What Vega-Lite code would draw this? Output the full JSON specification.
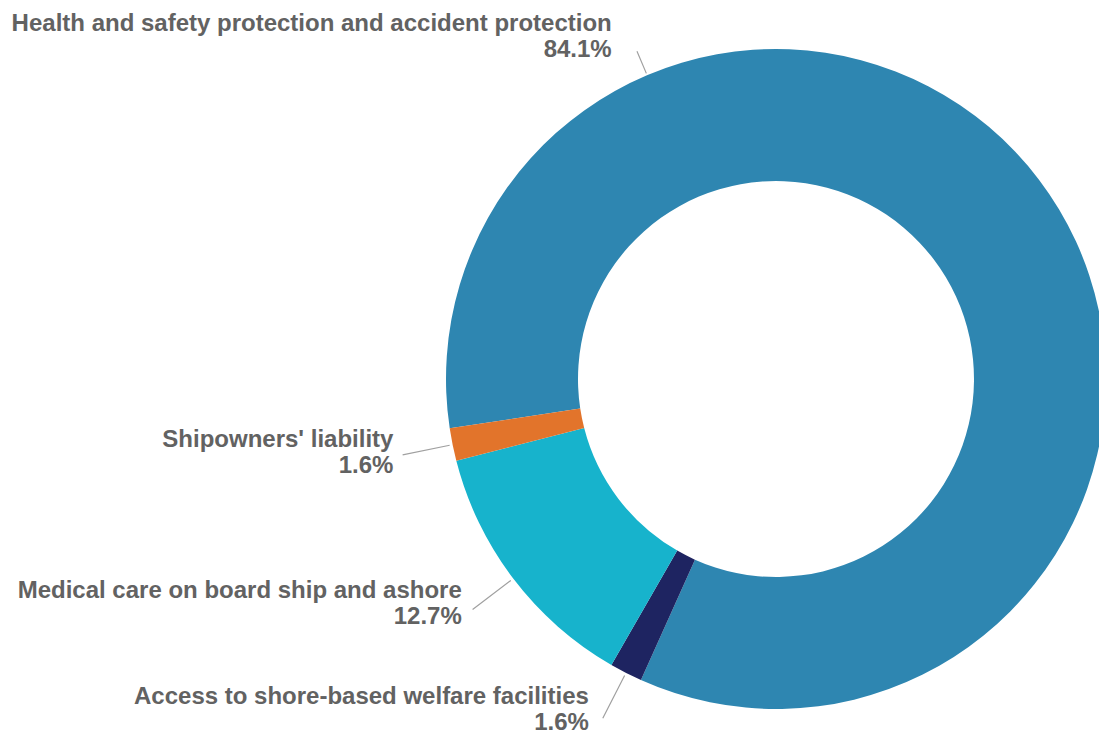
{
  "$schema": "https://vega.github.io/schema/vega-lite/v6.json",
  "width": 646,
  "height": 646,
  "autosize": {"type": "none"},
  "padding": {"left": 453, "top": 56, "right": 0, "bottom": 31},
  "background": "white",
  "config": {"view": {"stroke": null}},
  "data": {
    "values": [
      {"category": "Health and safety protection and accident protection", "share": 0.841},
      {"category": "Access to shore-based welfare facilities", "share": 0.016},
      {"category": "Medical care on board ship and ashore", "share": 0.127},
      {"category": "Shipowners' liability", "share": 0.016}
    ]
  },
  "transform": [
    {"window": [{"op": "row_number", "as": "seq"}]}
  ],
  "layer": [
    {
      "mark": {"type": "arc", "innerRadius": 198, "outerRadius": 330},
      "encoding": {
        "theta": {"field": "share", "type": "quantitative", "stack": true, "scale": {"domain": [0, 1], "range": [-1.7209, 4.5623]}},
        "order": {"field": "seq", "type": "quantitative"},
        "color": {
          "field": "category",
          "type": "nominal",
          "scale": {
            "domain": ["Health and safety protection and accident protection", "Access to shore-based welfare facilities", "Medical care on board ship and ashore", "Shipowners' liability"],
            "range": ["#2E86B1", "#1E2461", "#17B3CC", "#E2742B"]
          },
          "legend": null
        }
      }
    },
    {
      "mark": {"type": "arc", "innerRadius": 333, "outerRadius": 381, "padAngle": 3.1416, "fill": "white", "fillOpacity": 0, "stroke": "#a0a0a0", "strokeWidth": 1.2},
      "encoding": {
        "theta": {"field": "share", "type": "quantitative", "stack": true, "scale": {"domain": [0, 1], "range": [-1.7209, 4.5623]}},
        "order": {"field": "seq", "type": "quantitative"},
        "detail": {"field": "category", "type": "nominal"},
        "strokeOpacity": {"condition": {"test": "datum.share > 0.5", "value": 0}, "value": 1}
      }
    },
    {
      "mark": {"type": "text", "radius": 372, "align": "right", "baseline": "middle", "dx": -18, "dy": -13, "font": "Liberation Sans", "fontWeight": "bold", "fontSize": 24, "fill": "#626262"},
      "encoding": {
        "theta": {"field": "share", "type": "quantitative", "stack": true, "scale": {"domain": [0, 1], "range": [-1.7209, 4.5623]}},
        "order": {"field": "seq", "type": "quantitative"},
        "detail": {"field": "category", "type": "nominal"},
        "text": {"field": "category", "type": "nominal"},
        "opacity": {"condition": {"test": "datum.share > 0.5", "value": 0}, "value": 1}
      }
    },
    {
      "mark": {"type": "text", "radius": 372, "align": "right", "baseline": "middle", "dx": -18, "dy": 13, "font": "Liberation Sans", "fontWeight": "bold", "fontSize": 24, "fill": "#626262"},
      "encoding": {
        "theta": {"field": "share", "type": "quantitative", "stack": true, "scale": {"domain": [0, 1], "range": [-1.7209, 4.5623]}},
        "order": {"field": "seq", "type": "quantitative"},
        "detail": {"field": "category", "type": "nominal"},
        "text": {"field": "share", "type": "quantitative", "format": ".1%"},
        "opacity": {"condition": {"test": "datum.share > 0.5", "value": 0}, "value": 1}
      }
    },
    {
      "transform": [{"filter": "datum.share > 0.5"}],
      "mark": {"type": "text", "theta": 5.879, "radius": 372, "align": "right", "baseline": "middle", "dx": -18, "dy": -13, "font": "Liberation Sans", "fontWeight": "bold", "fontSize": 24, "fill": "#626262"},
      "encoding": {
        "text": {"field": "category", "type": "nominal"}
      }
    },
    {
      "transform": [{"filter": "datum.share > 0.5"}],
      "mark": {"type": "text", "theta": 5.879, "radius": 372, "align": "right", "baseline": "middle", "dx": -18, "dy": 13, "font": "Liberation Sans", "fontWeight": "bold", "fontSize": 24, "fill": "#626262"},
      "encoding": {
        "text": {"field": "share", "type": "quantitative", "format": ".1%"}
      }
    },
    {
      "transform": [{"filter": "datum.share > 0.5"}],
      "mark": {"type": "arc", "theta": 5.882, "theta2": 5.882, "innerRadius": 332, "outerRadius": 356, "fill": "white", "fillOpacity": 0, "stroke": "#a0a0a0", "strokeWidth": 1.2},
      "encoding": {}
    }
  ]
}
